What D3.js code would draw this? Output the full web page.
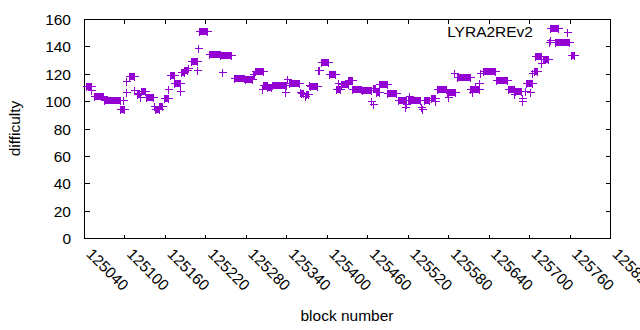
<!DOCTYPE html>
<html>
<head>
<meta charset="utf-8">
<script src="https://cdn.jsdelivr.net/npm/d3@7"></script>
<style>
  body { margin: 0; background: #fff; }
  text { font-family: "Liberation Sans", Arial, sans-serif; font-size: 15.5px; fill: #000; }
</style>
</head>
<body>
<svg id="chart" width="640" height="330"></svg>
<script>
// runs of consecutive blocks with the same difficulty
var runStart = [125043,125051,125055,125070,125094,125098,125102,125103,125107,125114,
  125118,125120,125123,125125,125132,125144,125145,125151,125158,125165,
  125167,125174,125182,125184,125189,125194,125198,125208,125209,125210,
  125225,125242,125244,125262,125279,125290,125293,125304,125306,125312,
  125319,125338,125341,125344,125361,125362,125368,125369,125374,125375,
  125387,125391,125403,125413,125417,125421,125431,125438,125452,125466,
  125468,125469,125473,125478,125490,125505,125516,125517,125520,125522,
  125540,125541,125544,125554,125561,125564,125578,125580,125588,125593,
  125612,125616,125620,125625,125627,125632,125651,125669,125679,125677,
  125689,125690,125694,125695,125702,125705,125707,125709,125717,125720,
  125730,125731,125731,125739,125762];
var runEnd = [125050,125051,125068,125093,125100,125098,125102,125103,125114,125114,
  125118,125121,125123,125130,125142,125144,125151,125155,125164,125165,
  125173,125183,125182,125188,125193,125194,125207,125208,125209,125223,
  125241,125258,125244,125278,125289,125292,125305,125304,125311,125318,
  125339,125338,125341,125359,125361,125365,125368,125372,125374,125385,
  125388,125402,125412,125420,125417,125431,125437,125451,125465,125466,
  125468,125472,125478,125489,125503,125518,125516,125517,125538,125522,
  125540,125541,125552,125561,125561,125577,125590,125580,125588,125613,
  125625,125616,125620,125625,125627,125649,125668,125678,125688,125677,
  125689,125690,125694,125704,125702,125705,125712,125718,125717,125728,
  125730,125731,125743,125759,125766];
var difficulty = [111,108,104,101,94,101,107,114.5,118,108,
  105.5,106,103,107.5,103,96.5,94,96.5,102.5,109,
  119,113.5,107.5,121,122.5,124,129.5,123,139,151,
  134.5,134,121,117,116,120,122,108.5,112,110,
  111.5,107,116,113.5,107,106,103.5,105,112,111,
  122.5,128.5,120,108.5,113.5,112.5,115.5,109,108,100,
  98,109.5,106.5,112.5,106,100.5,96,98,100.5,104,
  96,94,101,102,100,108.5,107,103,120.5,117.5,
  108.5,107,111,113.5,120.5,122,115.5,108.5,107.5,105,
  102,100,107.5,113.5,107,120.5,122,133,128,131,
  143,145,153.5,143,134];

var xTicks = [125040,125100,125160,125220,125280,125340,125400,125460,125520,125580,125640,125700,125760,125820];
var yTicks = [0,20,40,60,80,100,120,140,160];
var seriesName = "LYRA2REv2";
var color = "#9400d3";

var svg = d3.select("#chart"),
    margin = {top: 19, right: 30, bottom: 92, left: 84},
    width = 640 - margin.left - margin.right,
    height = 330 - margin.top - margin.bottom;

var x = d3.scaleLinear().domain([125040, 125820]).range([0.5, width + 0.5]);
var y = d3.scaleLinear().domain([0, 160]).range([height + 0.5, 0.5]);

var g = svg.append("g")
  .attr("transform", "translate(" + margin.left + "," + margin.top + ")");

function px(v) { return Math.round(v - 0.5) + 0.5; }

// ticks (mirrored on all four sides, pointing inward)
var ticks = g.append("g").attr("stroke", "#000").attr("stroke-width", 1).attr("shape-rendering", "crispEdges");
yTicks.forEach(function(t) {
  var yy = px(y(t));
  ticks.append("line").attr("x1", 0.5).attr("x2", 5.5).attr("y1", yy).attr("y2", yy);
  ticks.append("line").attr("x1", width + 0.5).attr("x2", width - 4.5).attr("y1", yy).attr("y2", yy);
});
xTicks.forEach(function(t) {
  var xx = px(x(t));
  ticks.append("line").attr("x1", xx).attr("x2", xx).attr("y1", height + 0.5).attr("y2", height - 3.5);
  ticks.append("line").attr("x1", xx).attr("x2", xx).attr("y1", 0.5).attr("y2", 4.5);
});

g.append("rect")
  .attr("x", 0.5).attr("y", 0.5)
  .attr("width", width).attr("height", height)
  .attr("fill", "none").attr("stroke", "#000").attr("shape-rendering", "crispEdges");

// tick labels
g.selectAll(".ylab")
  .data(yTicks)
  .enter().append("text")
    .attr("class", "ylab")
    .attr("x", -13)
    .attr("y", function(d) { return y(d); })
    .attr("dy", "0.36em")
    .attr("text-anchor", "end")
    .text(function(d) { return d; });

g.selectAll(".xlab")
  .data(xTicks)
  .enter().append("text")
    .attr("class", "xlab")
    .attr("text-anchor", "start")
    .attr("transform", function(d) { return "translate(" + (x(d) + 1) + "," + (height + 17) + ") rotate(45)"; })
    .text(function(d) { return d; });

// axis titles
svg.append("text")
  .attr("transform", "translate(20," + (margin.top + height / 2) + ") rotate(-90)")
  .attr("text-anchor", "middle")
  .text("difficulty");

svg.append("text")
  .attr("x", margin.left + width / 2)
  .attr("y", 321)
  .attr("text-anchor", "middle")
  .text("block number");

// points: a "+" at each end of a run, filled where the run spans several blocks
function plusPath(cx, cy) {
  return "M" + (cx - 4) + "," + cy + "H" + (cx + 4) + "M" + cx + "," + (cy - 4) + "V" + (cy + 4);
}

var runs = d3.range(runStart.length);
var pts = g.append("g").attr("shape-rendering", "crispEdges");

pts.selectAll(".run")
  .data(runs)
  .enter().append("path")
    .attr("class", "run")
    .attr("fill", "none")
    .attr("stroke", color)
    .attr("stroke-width", 1)
    .attr("d", function(i) {
      var xs = px(x(runStart[i])), xe = px(x(runEnd[i])), cy = px(y(difficulty[i]));
      return plusPath(xs, cy) + plusPath(xe, cy) + "M" + xs + "," + cy + "H" + xe;
    });

pts.selectAll(".box")
  .data(runs.filter(function(i) { return runEnd[i] > runStart[i]; }))
  .enter().append("rect")
    .attr("class", "box")
    .attr("fill", color)
    .attr("x", function(i) { return px(x(runStart[i])) - 0.5; })
    .attr("width", function(i) { return px(x(runEnd[i])) - px(x(runStart[i])) + 1; })
    .attr("y", function(i) { return px(y(difficulty[i])) - 3.5; })
    .attr("height", 7);

// legend
var legend = svg.append("g");
legend.append("text")
  .attr("x", 533)
  .attr("y", 37)
  .attr("text-anchor", "end")
  .text(seriesName);
legend.append("path")
  .attr("fill", "none")
  .attr("stroke", color)
  .attr("shape-rendering", "crispEdges")
  .attr("d", plusPath(567.5, 32.5));
</script>
</body>
</html>
